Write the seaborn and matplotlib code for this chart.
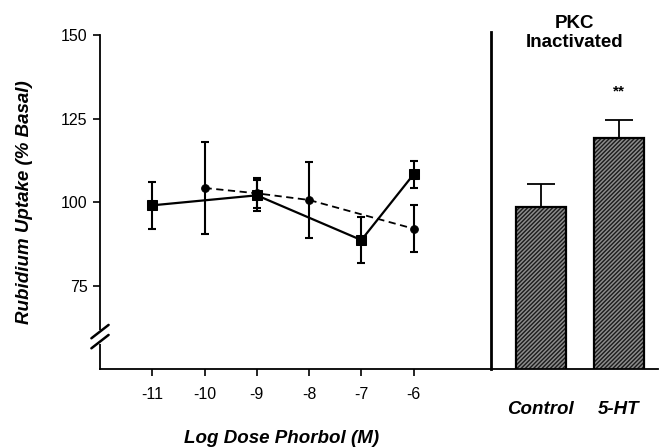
import numpy as np
import pandas as pd
import matplotlib
matplotlib.use("Agg")
import matplotlib.pyplot as plt
import seaborn as sns

# ---- data ----
dose_sq = [-11, -9, -7, -6]
val_sq = [99.0, 102.0, 88.6, 108.3]
err_sq = [7.0, 4.7, 7.0, 4.1]

dose_ci = [-10, -9, -8, -6]
val_ci = [104.2, 102.6, 100.6, 92.0]
err_ci = [13.8, 4.5, 11.4, 7.0]

bar_cats = ["Control", "5-HT"]
bar_vals = [98.4, 119.2]
bar_errs = [7.0, 5.5]

yticks = [75, 100, 125, 150]
xticks = [-11, -10, -9, -8, -7, -6]

sns.set_theme(style="white")
plt.rcParams['font.family'] = ['Liberation Sans', 'DejaVu Sans']
plt.rcParams['hatch.linewidth'] = 1.1
plt.rcParams['xtick.bottom'] = True
plt.rcParams['ytick.left'] = True

W, H = 661, 447
fig = plt.figure(figsize=(W / 100, H / 100), dpi=100)

def px_rect(x0, x1, ytop, ybot):
    return [x0 / W, 1 - ybot / H, (x1 - x0) / W, (ybot - ytop) / H]

ax = fig.add_axes(px_rect(100, 491, 35, 369))
axb = fig.add_axes(px_rect(491, 658, 35, 369))

lw = 1.6
# line plot
df_sq = pd.DataFrame({"dose": dose_sq, "val": val_sq})
df_ci = pd.DataFrame({"dose": dose_ci, "val": val_ci})
sns.lineplot(data=df_sq, x="dose", y="val", ax=ax, color="black", lw=lw,
             marker="s", markersize=7, markeredgecolor="black")
sns.lineplot(data=df_ci, x="dose", y="val", ax=ax, color="black", lw=1.3,
             linestyle=(0, (4, 2.5)), marker="o", markersize=5.5, markeredgecolor="black")
ax.errorbar(dose_sq, val_sq, yerr=err_sq, fmt="none", ecolor="black",
            elinewidth=1.5, capsize=3, capthick=1.5)
ax.errorbar(dose_ci, val_ci, yerr=err_ci, fmt="none", ecolor="black",
            elinewidth=1.5, capsize=3, capthick=1.5)

ax.set_xlim(-12, -4.52)
ax.set_ylim(50, 150)
ax.set_yticks(yticks)
ax.set_xticks(xticks)
ax.set_xticklabels([str(t) for t in xticks])
for s in ["top", "right"]:
    ax.spines[s].set_visible(False)
for s in ["left", "bottom"]:
    ax.spines[s].set_color("black")
    ax.spines[s].set_linewidth(1.3)
ax.tick_params(axis="both", which="major", direction="out", length=5, width=1.2,
               color="black", labelsize=11.5, labelcolor="black",
               bottom=True, left=True)
ax.tick_params(axis="x", pad=8)
ax.tick_params(axis="y", pad=4)
ax.set_xlabel("Log Dose Phorbol (M)", fontsize=13.5, fontweight="bold",
              fontstyle="italic", color="black")
ax.xaxis.set_label_coords(0.465, -0.183)
ax.set_ylabel("Rubidium Uptake (% Basal)", fontsize=13.5, fontweight="bold",
              fontstyle="italic", color="black")
ax.yaxis.set_label_coords(-0.172, 0.5)

# axis break marks
ax.plot([0, 0], [0.082, 0.11], transform=ax.transAxes, color="white", lw=3,
        clip_on=False, zorder=5)
for dy in (0.0, 0.03):
    ax.plot([-0.022, 0.022], [0.062 + dy, 0.102 + dy], transform=ax.transAxes,
            color="black", lw=1.8, clip_on=False, zorder=6)

# bar plot
df_b = pd.DataFrame({"cat": bar_cats, "val": bar_vals})
sns.barplot(data=df_b, x="cat", y="val", ax=axb, color="#1c1c1c", width=0.63,
            edgecolor="#8c8c8c", linewidth=0, hatch="////////", saturation=1)
for p in list(axb.patches):
    axb.add_patch(plt.Rectangle(p.get_xy(), p.get_width(), p.get_height(),
                                fill=False, edgecolor="black", lw=1.6, zorder=3))
axb.errorbar([0, 1], bar_vals, yerr=[[0, 0], bar_errs], fmt="none", ecolor="black",
             elinewidth=1.3, capsize=10, capthick=1.3, zorder=1)
axb.set_xlim(-0.64, 1.5)
axb.set_ylim(50, 150)
axb.set_yticks([])
axb.set_xlabel("")
axb.set_ylabel("")
for s in ["top", "right"]:
    axb.spines[s].set_visible(False)
axb.spines["left"].set_color("black")
axb.spines["left"].set_linewidth(2.0)
axb.spines["left"].set_bounds(50, 151)
axb.spines["bottom"].set_color("black")
axb.spines["bottom"].set_linewidth(1.3)
axb.tick_params(axis="x", length=0, bottom=False, pad=23, labelsize=13.5)
for t in axb.get_xticklabels():
    t.set_fontweight("bold")
    t.set_fontstyle("italic")
    t.set_color("black")
axb.text(1, bar_vals[1] + bar_errs[1] + 8.5, "**", ha="center", va="center",
         fontsize=11, fontweight="bold", color="black")
axb.text(0.50, 1.006, "PKC\nInactivated", transform=axb.transAxes, ha="center",
         va="center", fontsize=13.5, fontweight="bold", color="black", linespacing=1.15)

fig.savefig("out.png", dpi=100)
